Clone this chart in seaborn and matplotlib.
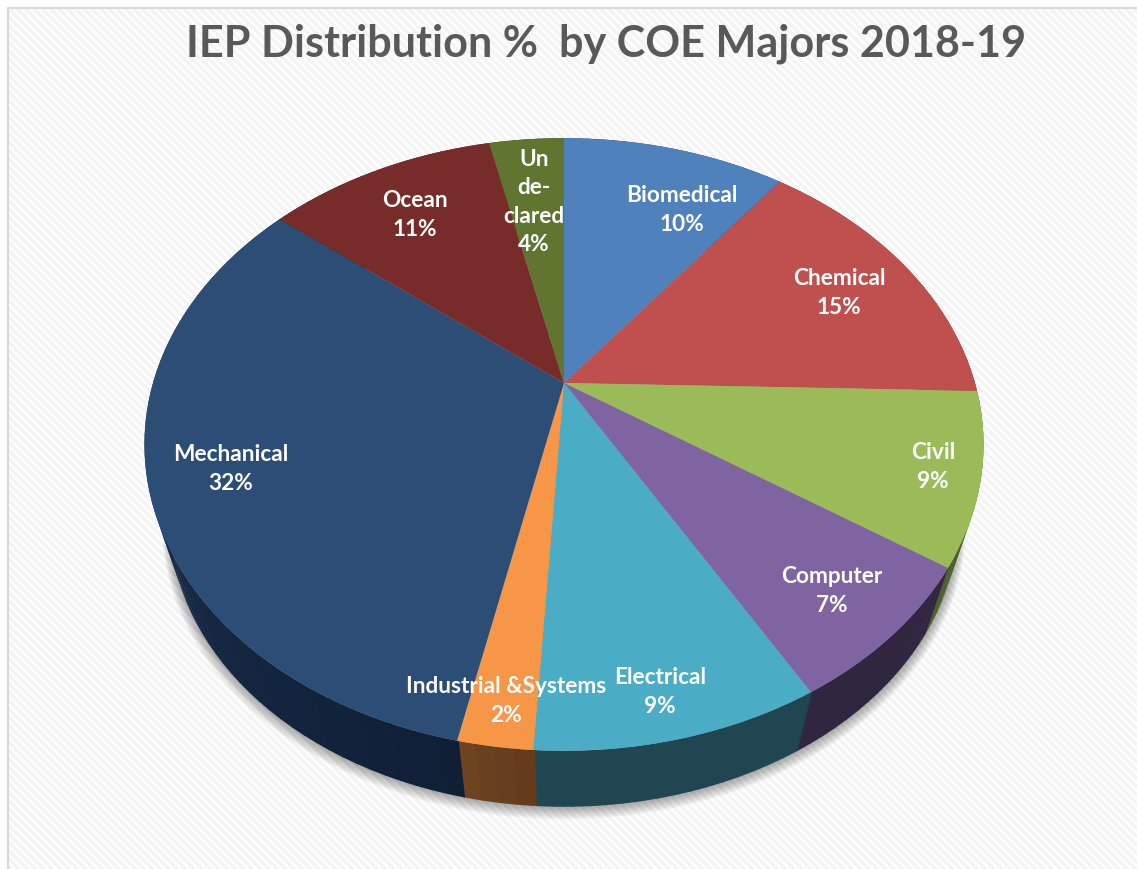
import numpy as np
import matplotlib
matplotlib.use("Agg")
import matplotlib.pyplot as plt
import matplotlib.transforms as mtrans
from matplotlib.patches import Rectangle
import seaborn as sns

# data
majors = ["Biomedical", "Chemical", "Civil", "Computer", "Electrical",
          "Industrial &Systems", "Mechanical", "Ocean", "Un\nde-\nclared"]
shares = [10.4, 15.0, 9.0, 7.3, 9.2, 2.4, 32.4, 10.7, 3.5]
top_colors = ["#4f81bd", "#c0504d", "#9bbb59", "#8064a2", "#4bacc6",
              "#f79646", "#2c4d75", "#772c2a", "#5f7530"]
side_start = ["#2f4d71", "#733030", "#4d5e2c", "#31263f", "#1f4651",
              "#6e4420", "#20375a", "#471a19", "#39461d"]
side_end = ["#2f4d71", "#733030", "#4d5e2c", "#31263f", "#1f4651",
            "#643a1c", "#0f1f36", "#471a19", "#39461d"]
title = "IEP Distribution %  by COE Majors 2018-19"

sns.set_theme(style="white")
plt.rcParams["font.family"] = ["Lato", "DejaVu Sans"]
plt.rcParams["hatch.linewidth"] = 2.6


class Tilt(mtrans.Transform):
    # unit disc -> picture pixels, with a bit of perspective
    input_dims = 2
    output_dims = 2

    def __init__(self, cx=564, cy=383, scale=1.0, k=0.2007, a=411, b=294):
        super().__init__()
        self.cx, self.cy, self.scale, self.k, self.a, self.b = cx, cy, scale, k, a, b

    def transform_non_affine(self, xy):
        xy = np.asarray(xy, dtype=float)
        w = 1 + self.k * xy[:, 1]
        return np.column_stack([self.cx + self.scale * self.a * xy[:, 0] / w,
                                self.cy - self.scale * self.b * xy[:, 1] / w])


fig = plt.figure(figsize=(11.37, 8.69), dpi=100)
ax = fig.add_axes([0, 0, 1, 1])
ax.set_xlim(0, 1137)
ax.set_ylim(869, 0)

# striped background + thin frame
ax.add_patch(Rectangle((8, 8), 1140, 870, facecolor="white", edgecolor="#f4f4f4",
                       hatch="\\\\\\\\", linewidth=0, zorder=0))
ax.plot([8, 8, 1137], [869, 8, 8], color="#d9d9d9", lw=1.6, zorder=1)

wedges = ax.pie(shares, colors=sns.color_palette(top_colors), startangle=90,
                counterclock=False, radius=1, center=(0, 0), frame=False,
                wedgeprops=dict(linewidth=0))[0]
ax.set_aspect("auto")
ax.set_xlim(0, 1137)
ax.set_ylim(869, 0)
ax.axis("off")

top_disc = Tilt()
low_disc = Tilt(cy=461, scale=0.94)

# soft shadow under the disc
circle = np.linspace(0, 2 * np.pi, 360)
circle = np.column_stack([np.cos(circle), np.sin(circle)])
for t in np.linspace(1, 0, 12):
    blur = Tilt(cy=461 + 6 * t, scale=0.94 + 0.018 * t)
    pts = blur.transform(circle)
    ax.fill(pts[:, 0], pts[:, 1], color="black", alpha=0.03, lw=0, zorder=2)

# sides of the disc, drawn in thin slices so the shading can run along them
for wedge, start, end in zip(wedges, side_start, side_end):
    wedge.set_transform(top_disc + ax.transData)
    wedge.set_zorder(5)
    lo, hi = wedge.theta1, wedge.theta2
    steps = max(int(hi - lo) // 2, 1)
    edges = np.linspace(lo, hi, steps + 1)
    c_start = np.array(matplotlib.colors.to_rgb(start))
    c_end = np.array(matplotlib.colors.to_rgb(end))
    for j in range(steps):
        t = np.radians(np.linspace(edges[j], edges[j + 1] + 0.2, 4))
        arc = np.column_stack([np.cos(t), np.sin(t)])
        up, dn = top_disc.transform(arc), low_disc.transform(arc)
        mix = (j + 0.5) / steps
        colour = c_start * (1 - mix) + c_end * mix
        ax.fill(np.r_[up[:, 0], dn[::-1, 0]], np.r_[up[:, 1], dn[::-1, 1]],
                color=colour, lw=0, zorder=3)

# labels
label_pos = [(682, 210), (839, 293), (933, 467), (832, 591), (660, 692),
             (506, 701), (231, 469), (415, 215), (534, 202)]
for name, value, (x, y) in zip(majors, shares, label_pos):
    pct = value / sum(shares) * 100
    ax.text(x, y, f"{name}\n{pct:.0f}%", color="white", fontsize=16.3, fontweight="bold",
            ha="center", va="center", linespacing=1.45, zorder=6)

ax.text(606, 44, title, color="#595959", fontsize=31.1, fontweight="bold",
        ha="center", va="center", zorder=6)

fig.savefig("out.png", dpi=100)
